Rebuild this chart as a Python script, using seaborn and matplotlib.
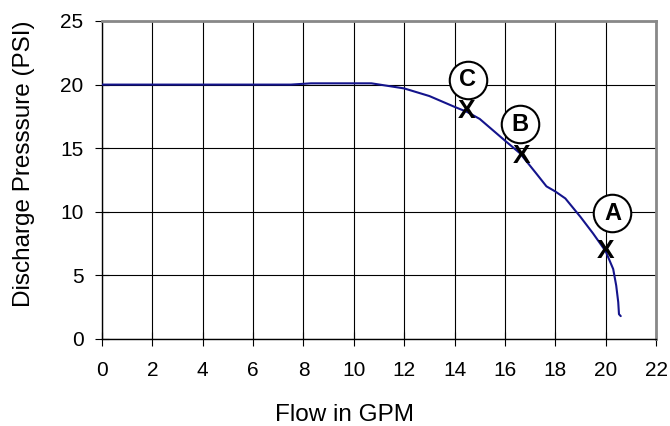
import matplotlib
matplotlib.use("Agg")
import matplotlib.pyplot as plt
import seaborn as sns
import pandas as pd

flow = [0, 7.5, 8.3, 10.7, 12.0, 13.0, 14.0, 14.5, 15.0, 16.0, 16.6, 17.25,
        17.65, 18.0, 18.4, 19.0, 19.5, 20.0, 20.3, 20.42, 20.5, 20.53, 20.6]
pressure = [20, 20, 20.1, 20.1, 19.7, 19.1, 18.25, 17.85, 17.3, 15.6, 14.6, 13.0,
            12.0, 11.6, 11.05, 9.6, 8.3, 6.9, 5.5, 4.2, 2.9, 1.95, 1.8]

point_labels = ["C", "B", "A"]
point_x = [14.47, 16.65, 20.0]
point_y = [17.9, 14.4, 6.9]
circle_x = [14.52, 16.6, 20.27]
circle_y = [20.4, 16.9, 9.9]

x_ticks = list(range(0, 23, 2))
y_ticks = [0, 5, 10, 15, 20, 25]

sns.set_theme(style="white")
plt.rcParams['font.family'] = ['Liberation Sans', 'DejaVu Sans']

fig = plt.figure(figsize=(6.7, 4.26), dpi=100)
ax = fig.add_axes([102/670, 1-339/426, 554/670, 318/426])

df = pd.DataFrame({"flow": flow, "pressure": pressure})
sns.lineplot(data=df, x="flow", y="pressure", ax=ax, color="#14148c",
             linewidth=1.5, estimator=None, sort=False, zorder=3)

ax.set_xlim(0, 22)
ax.set_ylim(0, 25)
ax.set_xticks(x_ticks)
ax.set_yticks(y_ticks)
ax.grid(True, color="black", linewidth=0.8, zorder=0)
ax.set_axisbelow(True)

for side in ["left", "bottom"]:
    ax.spines[side].set_color("black")
    ax.spines[side].set_linewidth(1.0)
for side in ["top", "right"]:
    ax.spines[side].set_color("#888888")
    ax.spines[side].set_linewidth(2.0)

ax.tick_params(axis="both", direction="inout", length=10.5, width=0.8, color="black",
               labelsize=15, bottom=True, left=True, labelcolor="black")
ax.tick_params(axis="x", pad=10.5)
ax.tick_params(axis="y", pad=8)

ax.set_xlabel("Flow in GPM", fontsize=17.5, color="black")
ax.set_ylabel("Discharge Presssure (PSI)", fontsize=17.5, color="black")
ax.xaxis.set_label_coords(0.437, -0.203)
ax.yaxis.set_label_coords(-0.121, 0.55)

for lab, px, py, cx, cy in zip(point_labels, point_x, point_y, circle_x, circle_y):
    ax.text(px, py, "X", ha="center", va="center", fontsize=19,
            fontweight="bold", color="black", zorder=5)
    ax.plot([cx], [cy], marker="o", markersize=27, markerfacecolor="white",
            markeredgecolor="black", markeredgewidth=1.5, linestyle="none",
            zorder=6, clip_on=False)
    ax.text(cx, cy, lab, ha="center", va="center", fontsize=17,
            fontweight="bold", color="black", zorder=7)

fig.savefig("out.png", dpi=100)
